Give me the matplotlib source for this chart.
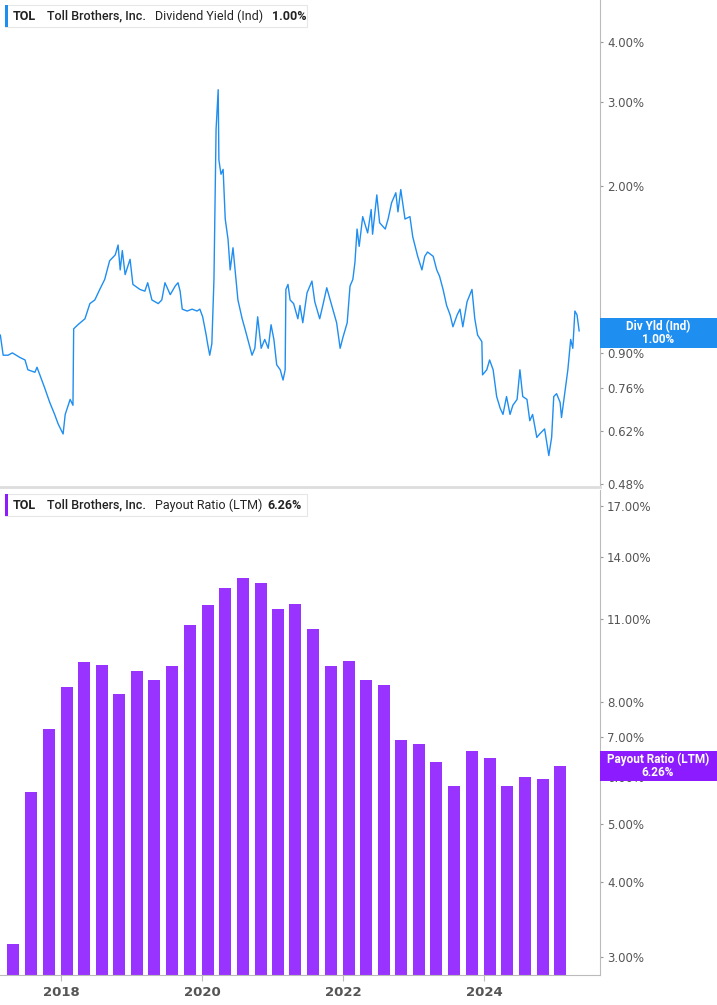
import matplotlib.pyplot as plt
import numpy as np
import pandas as pd
from matplotlib.patches import Rectangle
from matplotlib.ticker import FixedLocator, NullLocator

# ---------------------------------------------------------------------------
# Data
# ---------------------------------------------------------------------------
yield_dates = [
    2017.14, 2017.18, 2017.25, 2017.31, 2017.42, 2017.49, 2017.53, 2017.63, 2017.66, 2017.77,
    2017.84, 2017.91, 2017.96, 2018.03, 2018.06, 2018.13, 2018.17, 2018.18, 2018.24, 2018.34,
    2018.41, 2018.48, 2018.55, 2018.62, 2018.69, 2018.77, 2018.81, 2018.84, 2018.87, 2018.91,
    2018.98, 2019.02, 2019.12, 2019.19, 2019.23, 2019.29, 2019.38, 2019.43, 2019.475, 2019.55,
    2019.62, 2019.66, 2019.69, 2019.72, 2019.79, 2019.86, 2019.93, 2019.97, 2020.01, 2020.06,
    2020.08, 2020.11, 2020.14, 2020.17, 2020.20, 2020.23, 2020.24, 2020.27, 2020.30, 2020.33,
    2020.37, 2020.40, 2020.44, 2020.47, 2020.51, 2020.57, 2020.61, 2020.65, 2020.71, 2020.75,
    2020.79, 2020.84, 2020.89, 2020.94, 2020.98, 2021.02, 2021.06, 2021.11, 2021.15, 2021.18,
    2021.19, 2021.22, 2021.25, 2021.30, 2021.36, 2021.39, 2021.43, 2021.49, 2021.56, 2021.60,
    2021.67, 2021.72, 2021.77, 2021.84, 2021.91, 2021.96, 2022.00, 2022.06, 2022.10, 2022.14,
    2022.17, 2022.20, 2022.23, 2022.28, 2022.35, 2022.40, 2022.42, 2022.48, 2022.52, 2022.60,
    2022.64, 2022.69, 2022.75, 2022.78, 2022.82, 2022.88, 2022.95, 2022.99, 2023.06, 2023.12,
    2023.16, 2023.20, 2023.28, 2023.33, 2023.37, 2023.42, 2023.47, 2023.52, 2023.56, 2023.62,
    2023.66, 2023.70, 2023.76, 2023.83, 2023.87, 2023.91, 2023.97, 2023.98, 2024.04, 2024.08,
    2024.13, 2024.18, 2024.23, 2024.27, 2024.32, 2024.37, 2024.41, 2024.47, 2024.51, 2024.55,
    2024.61, 2024.65, 2024.69, 2024.75, 2024.79, 2024.86, 2024.92, 2024.96, 2024.99, 2025.03,
    2025.08, 2025.10, 2025.15, 2025.19, 2025.23, 2025.26, 2025.29, 2025.32, 2025.35,
]
yield_values = [
    0.98, 0.89, 0.89, 0.90, 0.88, 0.87, 0.83, 0.82, 0.84, 0.76,
    0.71, 0.67, 0.64, 0.61, 0.67, 0.72, 0.70, 1.01, 1.03, 1.06,
    1.14, 1.16, 1.22, 1.28, 1.40, 1.44, 1.51, 1.34, 1.47, 1.31,
    1.41, 1.25, 1.22, 1.21, 1.26, 1.16, 1.14, 1.16, 1.26, 1.19,
    1.24, 1.26, 1.21, 1.11, 1.10, 1.11, 1.10, 1.11, 1.07, 0.98,
    0.94, 0.89, 0.94, 1.28, 2.63, 3.18, 2.27, 2.12, 2.17, 1.71,
    1.55, 1.34, 1.49, 1.34, 1.16, 1.06, 1.01, 0.96, 0.89, 0.92,
    1.07, 0.92, 0.96, 0.92, 1.03, 0.96, 0.85, 0.83, 0.79, 0.83,
    1.22, 1.25, 1.16, 1.14, 1.06, 1.13, 1.04, 1.20, 1.27, 1.15,
    1.06, 1.14, 1.23, 1.13, 1.04, 0.92, 0.97, 1.04, 1.24, 1.28,
    1.39, 1.63, 1.50, 1.73, 1.60, 1.79, 1.59, 1.92, 1.68, 1.63,
    1.71, 1.85, 1.94, 1.77, 1.97, 1.71, 1.73, 1.57, 1.43, 1.34,
    1.43, 1.46, 1.43, 1.34, 1.30, 1.22, 1.13, 1.08, 1.02, 1.08,
    1.11, 1.02, 1.15, 1.22, 1.06, 0.98, 0.95, 0.81, 0.83, 0.87,
    0.83, 0.73, 0.69, 0.67, 0.73, 0.67, 0.70, 0.72, 0.83, 0.73,
    0.72, 0.65, 0.67, 0.60, 0.61, 0.625, 0.55, 0.60, 0.73, 0.74,
    0.71, 0.66, 0.75, 0.83, 0.96, 0.92, 1.10, 1.08, 1.00,
]

payout_quarters = pd.date_range("2017-04-30", periods=32, freq="3ME")
payout_values = [
    3.14, 5.66, 7.21, 8.48, 9.32, 9.21, 8.24, 9.00, 8.70, 9.19,
    10.76, 11.60, 12.42, 12.90, 12.63, 11.45, 11.66, 10.60, 9.17, 9.36,
    8.70, 8.55, 6.90, 6.81, 6.35, 5.79, 6.62, 6.44, 5.79, 6.00,
    5.94, 6.26,
]

yield_ticks = [0.48, 0.62, 0.76, 0.90, 1.00, 2.00, 3.00, 4.00]
payout_ticks = [3.0, 4.0, 5.0, 6.0, 7.0, 8.0, 11.0, 14.0, 17.0]
year_ticks = [2018, 2020, 2022, 2024]

LINE_COLOR = "#1f8ef1"
BAR_COLOR = "#9933ff"
FLAG_PURPLE = "#8c1cff"
TICK_COLOR = "#555555"
W, H = 717, 1005


def decimal_year(ts):
    start = pd.Timestamp(year=ts.year, month=1, day=1)
    return ts.year + (ts - start).days / 365.25


def style_axis(ax, ticks, fmt):
    ax.set_yscale("log")
    ax.yaxis.tick_right()
    ax.yaxis.set_major_locator(FixedLocator(ticks))
    ax.yaxis.set_minor_locator(NullLocator())
    ax.set_yticklabels([fmt.format(t) for t in ticks])
    ax.tick_params(axis="y", length=2, color="#999999", labelcolor=TICK_COLOR,
                   labelsize=8.5, pad=3)
    for side in ("top", "left"):
        ax.spines[side].set_visible(False)
    ax.spines["right"].set_color("#bbbbbb")
    ax.set_xlim(2017.135, 2025.646)


def legend_box(fig, y_px, color, label, value, value_x):
    fig.patches.append(Rectangle((5 / W, 1 - (y_px + 11) / H), 302 / W, 22 / H,
                                 transform=fig.transFigure, facecolor="white",
                                 edgecolor="#e6e6e6", linewidth=0.8, zorder=5))
    fig.patches.append(Rectangle((5 / W, 1 - (y_px + 11) / H), 3 / W, 22 / H,
                                 transform=fig.transFigure, facecolor=color,
                                 edgecolor="none", zorder=6))
    ty = 1 - y_px / H
    kw = dict(va="center", fontsize=9, family="Roboto", zorder=7, color="#222222")
    fig.text(13 / W, ty, "TOL", fontweight="bold", **kw)
    fig.text(47 / W, ty, "Toll Brothers, Inc.", fontweight="medium", **kw)
    fig.text(155 / W, ty, label, **kw)
    fig.text(value_x / W, ty, value, fontweight="bold", **kw)


def value_flag(fig, y_px, color, text):
    fig.patches.append(Rectangle((600 / W, 1 - (y_px + 15) / H), 117 / W, 30 / H,
                                 transform=fig.transFigure, facecolor=color,
                                 edgecolor="none", zorder=8))
    fig.text(658 / W, 1 - y_px / H, text, ha="center", va="center", color="white",
             fontsize=8.5, fontweight="bold", family="Roboto", linespacing=1.0, zorder=9)


fig = plt.figure(figsize=(7.17, 10.05), dpi=100)

# Top: dividend yield line
ax1 = fig.add_axes([0, 1 - 487 / H, 600 / W, 487 / H])
ax1.plot(yield_dates, yield_values, color=LINE_COLOR, linewidth=1.0)
style_axis(ax1, yield_ticks, "{:.2f}%")
ax1.set_ylim(0.473, 4.89)
ax1.spines["bottom"].set_color("#dddddd")
ax1.spines["bottom"].set_linewidth(2)
ax1.set_xticks([])

# Bottom: payout ratio bars
ax2 = fig.add_axes([0, 1 - 975 / H, 600 / W, 485 / H])
bar_x = [decimal_year(q) for q in payout_quarters]
ax2.bar(bar_x, payout_values, width=0.17, bottom=0.01, color=BAR_COLOR, edgecolor="none")
style_axis(ax2, payout_ticks, "{:.2f}%")
ax2.set_ylim(2.80, 18.1)
ax2.spines["bottom"].set_color("#bbbbbb")
ax2.set_xticks(year_ticks)
ax2.set_xticklabels([str(y) for y in year_ticks])
ax2.tick_params(axis="x", length=4, color="#bbbbbb", labelcolor=TICK_COLOR,
                labelsize=9.5, pad=4)
for lbl in ax2.get_xticklabels():
    lbl.set_fontweight("bold")

legend_box(fig, 16, LINE_COLOR, "Dividend Yield (Ind)", "1.00%", 272)
legend_box(fig, 505, FLAG_PURPLE, "Payout Ratio (LTM)", "6.26%", 267)
value_flag(fig, 333, LINE_COLOR, "Div Yld (Ind)\n1.00%")
value_flag(fig, 766, FLAG_PURPLE, "Payout Ratio (LTM)\n6.26%")

fig.savefig("out.png", dpi=100)
